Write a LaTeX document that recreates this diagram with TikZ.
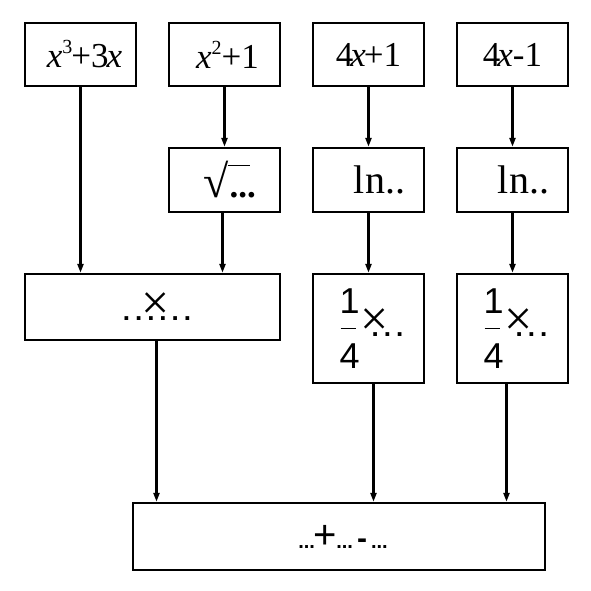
\documentclass[tikz,border=0pt]{standalone}
\usepackage{fontspec}
\setmainfont{Liberation Serif}
\newfontfamily\sansf{Liberation Sans}
\usetikzlibrary{arrows.meta,positioning,calc}

\begin{document}
\begin{tikzpicture}[x=1pt,y=-1pt,>={Triangle[length=9pt,width=6pt]},line width=2.4pt,
  every node/.style={font=\fontsize{35}{40}\selectfont,align=center},
  box/.style={draw,rectangle,inner sep=0pt,minimum width=111pt,minimum height=63pt}]
\useasboundingbox (0,0) rectangle (591,591);
\newcommand\quart{\sansf\fontsize{36}{36}\selectfont\rlap{\raisebox{23pt}{\makebox[20pt]{1}}}\rlap{\raisebox{7pt}{\kern1pt\rule{15pt}{1.2pt}}}\raisebox{-32pt}{\makebox[20pt]{4}}}
\newcommand\bdots{{\sansf\fontsize{20}{20}\selectfont\bfseries ...}}
\newcommand\sdot{{\sansf\fontsize{26}{26}\selectfont\bfseries .}}
\newcommand\bigx{{\rmfamily\fontsize{50}{50}\selectfont\raisebox{1pt}{×}}}
% top row
\node[box] (f1) at (80.5,54.5) {\hspace{8pt}\textit{x}\raisebox{14pt}{\fontsize{20}{20}\selectfont 3}\kern-1pt+3\kern-2pt\textit{x}};
\node[box] (f2) at (224.5,54.5) {\hspace{6pt}\textit{x}\raisebox{14pt}{\fontsize{20}{20}\selectfont 2}+1};
\node[box] (f3) at (368.5,54.5) {4\kern-3pt\textit{x}\kern-2pt+1};
\node[box] (f4) at (512.5,54.5) {4\kern-3pt\textit{x}-1};
% second row
\node[box,minimum height=64pt] (sq) at (224.5,180) {\hspace{10pt}\raisebox{-6pt}{{\fontsize{46}{46}\selectfont √}\kern-1pt\rlap{\raisebox{32pt}{\rule{22pt}{1.4pt}}}\kern2pt\textbf{...}}};
\node[box,minimum height=64pt] (ln1) at (368.5,180) {\raisebox{-13pt}{\hspace{22pt}\fontsize{40}{40}\selectfont ln..}};
\node[box,minimum height=64pt] (ln2) at (512.5,180) {\raisebox{-13pt}{\hspace{22pt}\fontsize{40}{40}\selectfont ln..}};
% third row
\node[box,minimum width=255pt,minimum height=66pt] (prod) at (152.5,307) {\hspace{9pt}\sdot\kern5pt\sdot\kern5pt\rlap{\kern-6pt\bigx}\sdot\kern5pt\sdot\kern5pt\sdot\kern5pt\sdot};
\node[box,minimum height=109pt] (q1) at (368.5,328.5) {\hspace{6pt}\quart\kern1pt\rlap{\bigx}\kern11pt\sdot\kern5pt\sdot\kern5pt\sdot};
\node[box,minimum height=109pt] (q2) at (512.5,328.5) {\hspace{6pt}\quart\kern1pt\rlap{\bigx}\kern11pt\sdot\kern5pt\sdot\kern5pt\sdot};
% result
\node[box,minimum width=412pt,minimum height=67pt] (sum) at (339,536.5) {\hspace{8pt}\raisebox{-8pt}{\bdots\kern-1pt{\sansf\fontsize{40}{40}\selectfont +}\kern-1pt\bdots\kern4pt{\sansf\bfseries\fontsize{30}{30}\selectfont -}\kern4pt\bdots}};
% arrows
\draw[->] (f1.south) -- (f1.south |- prod.north);
\draw[->] (f2.south) -- (sq.north);
\draw[->] ([xshift=-2pt]sq.south) -- ([xshift=-2pt]sq.south |- prod.north);
\draw[->] (f3.south) -- (ln1.north);
\draw[->] (f4.south) -- (ln2.north);
\draw[->] (ln1.south) -- (q1.north);
\draw[->] (ln2.south) -- (q2.north);
\draw[->] ([xshift=4pt]prod.south) -- ([xshift=4pt]prod.south |- sum.north);
\draw[->] ([xshift=5pt]q1.south) -- ([xshift=5pt]q1.south |- sum.north);
\draw[->] ([xshift=-6pt]q2.south) -- ([xshift=-6pt]q2.south |- sum.north);
\end{tikzpicture}
\end{document}
